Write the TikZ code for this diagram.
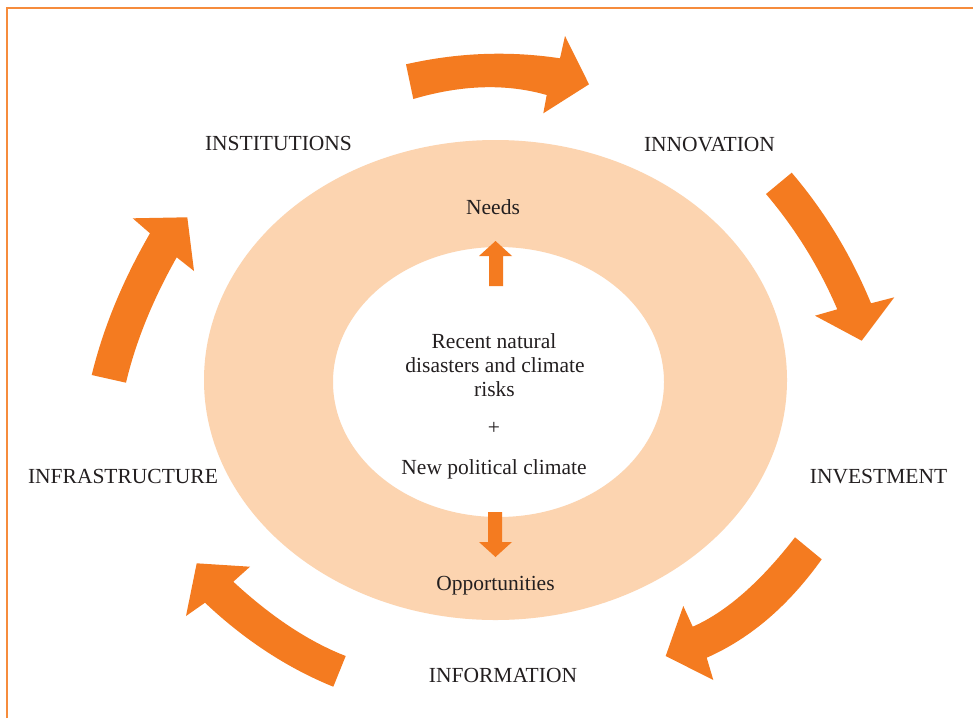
\documentclass[tikz,border=0pt]{standalone}
\usepackage{fontspec}
\setmainfont{Liberation Serif}
\definecolor{arr}{RGB}{244,123,32}
\definecolor{ring}{RGB}{252,212,176}
\definecolor{framec}{RGB}{246,140,60}
\definecolor{txt}{RGB}{35,31,32}
\begin{document}
\begin{tikzpicture}[x=1pt,y=-1pt,
  lbl/.style={text=txt, font=\fontsize{21.5}{24}\selectfont, anchor=base, inner sep=0pt},
  bigarrow/.style={fill=arr, draw=none}]
\useasboundingbox (0,0) rectangle (973,718);
\fill[white] (0,0) rectangle (973,718);
\draw[framec, line width=2pt] (7,718) -- (7,8) -- (973,8);
% ring
\fill[ring, even odd rule] (495.5,380) ellipse [x radius=291.5, y radius=240]
  (498.5,382) ellipse [x radius=165.5, y radius=135];
% cycle arrows
\fill[bigarrow] (406,64.3) .. controls (457.3,52.6) and (508.7,50.6) .. (560,58.3) -- (565,36) -- (589,84.3) -- (543.3,113.3) -- (546.7,95) .. controls (506.2,83.4) and (461.8,84.7) .. (413.3,99) -- cycle;
\fill[bigarrow] (791.7,172.7) .. controls (824.3,210.9) and (850.8,254.4) .. (871,303.3) -- (894.3,297.3) -- (861.7,340.7) -- (815,315.7) -- (837.3,309.3) .. controls (819.3,267.3) and (795.6,228.9) .. (766,194) -- cycle;
\fill[bigarrow] (821.7,559.3) .. controls (788.8,605.2) and (751.2,638) .. (706.7,657.7) -- (713.3,680) -- (665.7,656) -- (683.3,606) -- (692.7,626.7) .. controls (726.1,612) and (760.2,582.2) .. (795,537.3) -- cycle;
\fill[bigarrow] (333.3,686.7) .. controls (287.3,668) and (244.5,640) .. (205,602.7) -- (186,616) -- (196.7,563.3) -- (250,566.7) -- (233.3,581.7) .. controls (271.4,616.9) and (308.9,641.7) .. (345.7,656) -- cycle;
\fill[bigarrow] (91.7,375) .. controls (103.3,327.6) and (122.8,280.3) .. (150,233.3) -- (132.7,218.3) -- (187.3,217.3) -- (194,271) -- (176.7,257.3) .. controls (153.1,299.1) and (135.8,341.2) .. (126,382.7) -- cycle;
% small arrows
\fill[bigarrow] (489,286) -- (489,256) -- (479,256) -- (495.5,241) -- (512,256) -- (503,256) -- (503,286) -- cycle;
\fill[bigarrow] (488,512) -- (488,542) -- (479,542) -- (495.5,557) -- (512,542) -- (502,542) -- (502,512) -- cycle;
% labels
\node[lbl] (inst) at (278.5,150) {INSTITUTIONS};
\node[lbl] (innov) at (709.5,151) {INNOVATION};
\node[lbl] (invest) at (878.5,483) {INVESTMENT};
\node[lbl] (infra) at (123,483) {INFRASTRUCTURE};
\node[lbl] (inform) at (503,682) {INFORMATION};
\node[lbl] (needs) at (493,214) {Needs};
\node[lbl] (opp) at (495.5,590) {Opportunities};
\node[lbl] (l1) at (494,348) {Recent natural};
\node[lbl] (l2) at (495,372) {disasters and climate};
\node[lbl] (l3) at (494.5,396) {risks};
\node[lbl] (plus) at (494,434) {+};
\node[lbl] (newpol) at (494,474) {New political climate};
\end{tikzpicture}
\end{document}
